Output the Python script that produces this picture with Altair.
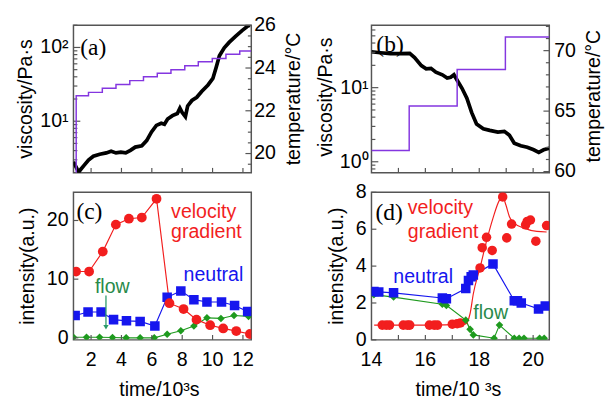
import altair as alt
import pandas as pd

FONT = "Liberation Sans"
SERIF = "Liberation Serif"
W, H = 182, 151
RED = "#f21e1e"
BLUE = "#1616ee"
GREEN = "#1e9a1e"
PURPLE = "#8436e0"
FRAME = "#555555"
FLOWC = "#2a8a4a"

# ---------------- panel (a) ----------------
a_visc_t = [0.84, 1.08, 1.20, 1.30, 1.51, 1.83, 2.15, 2.57, 3.00, 3.32, 3.64, 3.96, 4.28, 4.59,
            4.91, 5.34, 5.66, 5.98, 6.30, 6.62, 6.83, 7.04, 7.36, 7.68, 7.85, 8.00, 8.21, 8.36,
            8.64, 8.96, 9.28, 9.70, 10.02, 10.24, 10.45, 10.77, 11.09, 11.51, 11.94, 12.32, 12.45]
a_visc_v = [2.82, 2.24, 2.05, 2.2, 2.48, 2.98, 3.36, 3.57, 3.72, 3.91, 3.72, 3.8, 3.72, 4.03,
            4.46, 4.65, 5.46, 7.16, 8.77, 9.4, 9.1, 10.7, 11.9, 12.7, 15.0, 13.1, 11.5, 16.1,
            19.1, 21.1, 25.3, 31.0, 38.0, 54.0, 77.0, 99.0, 117.0, 141.0, 169.0, 195.0, 200.0]
a_temp_t = [1.02, 1.02, 1.83, 2.74, 3.64, 4.55, 5.45, 6.36, 7.26, 8.17, 9.06, 9.98, 10.88, 11.79, 12.55]
a_temp_v = [19.1, 22.70, 22.86, 23.05, 23.23, 23.41, 23.59, 23.76, 23.92, 24.11, 24.29, 24.45, 24.64, 24.80, 24.80]

# ---------------- panel (b) ----------------
b_visc_t = [14.0, 14.33, 14.70, 15.06, 15.42, 15.60, 15.85, 16.03, 16.21, 16.39, 16.63, 16.81, 16.94,
            17.06, 17.18, 17.36, 17.54, 17.72, 17.90, 18.15, 18.39, 18.69, 18.93, 19.12, 19.30,
            19.54, 19.78, 20.02, 20.21, 20.39, 20.6]
b_visc_v = [30.5, 29.6, 28.7, 28.7, 29.0, 25.5, 19.8, 17.9, 18.2, 16.2, 14.9, 13.5, 13.8,
            14.9, 12.6, 9.8, 7.2, 4.6, 3.24, 2.79, 2.65, 2.52, 2.57, 2.28, 1.78,
            1.64, 1.57, 1.45, 1.34, 1.45, 1.52]
b_temp_t = [14.0, 15.40, 17.18, 18.97, 20.6]
b_temp_v = [61.75, 65.43, 68.44, 71.13, 71.13]

# ---------------- panel (c) ----------------
c_red_t = [1.01, 1.87, 2.77, 3.63, 4.49, 5.34, 6.31, 7.16, 8.09, 8.94, 9.84, 10.70, 11.56, 12.46]
c_red_v = [11.3, 11.3, 14.7, 19.3, 20.3, 20.5, 23.7, 5.9, 4.9, 3.1, 2.15, 1.6, 1.15, 0.65]
c_blue_t = [0.95, 1.80, 2.66, 3.48, 4.33, 5.23, 6.20, 7.01, 7.91, 8.77, 9.63, 10.59, 11.45, 12.31]
c_blue_v = [3.8, 4.4, 4.4, 3.1, 2.9, 2.8, 2.0, 6.9, 8.0, 6.5, 6.1, 6.1, 5.5, 4.5]
c_green_t = [0.84, 1.70, 2.56, 3.41, 4.31, 5.23, 6.16, 7.01, 7.91, 8.77, 9.63, 10.55, 11.41, 12.37]
c_green_v = [0.1, 0.1, 0.1, 0.05, 0.0, 0.0, 0.0, 0.6, 1.2, 2.0, 3.4, 3.3, 3.8, 3.65]

# ---------------- panel (d) ----------------
d_red_t = [14.40, 14.55, 14.67, 15.18, 15.33, 15.42, 16.15, 16.33, 16.45, 17.0, 17.18, 17.3,
           18.03, 18.11, 18.27, 18.48, 18.87, 19.02, 19.2, 19.72, 19.78, 19.9, 20.1, 20.5]
d_red_v = [0.8, 0.8, 0.8, 0.8, 0.8, 0.8, 0.8, 0.8, 0.8, 0.85, 0.88, 0.92,
           3.9, 5.0, 5.56, 4.85, 7.75, 5.53, 6.28, 6.24, 6.42, 6.5, 5.35, 6.2]
d_fit_t = [14.1, 16.0, 17.48, 17.66, 17.78, 18.03, 18.27, 18.51, 18.75, 18.87, 18.99, 19.12, 19.3, 19.66, 20.14, 20.5]
d_fit_v = [0.8, 0.8, 0.85, 1.43, 2.5, 3.92, 5.35, 6.6, 7.58, 7.75, 7.31, 6.68, 6.33, 6.06, 5.88, 5.85]
d_blue_t = [14.09, 14.27, 14.82, 16.63, 16.78, 17.5, 17.6, 17.7, 17.78, 18.51, 19.3, 19.42, 19.56, 20.2, 20.45]
d_blue_v = [2.62, 2.6, 2.55, 2.27, 2.23, 2.78, 3.22, 3.42, 3.52, 4.12, 2.12, 2.12, 2.0, 1.68, 1.84]
d_green_t = [14.09, 14.82, 16.63, 16.78, 17.5, 17.66, 17.78, 18.55, 18.75, 19.3, 19.48, 19.66, 20.24, 20.41]
d_green_v = [2.45, 2.32, 1.93, 1.87, 1.07, 0.57, 0.27, 0.09, 0.8, 0.09, 0.09, 0.09, 0.09, 0.09]

# ---------------- scales, ticks and tick labels ----------------
x_left_dom = [0.84, 12.55]
x_right_dom = [14.0, 20.6]
a_visc_dom = [2.0, 200.0]
a_temp_dom = [19.1, 26.0]
b_visc_dom = [0.71, 69.5]
b_temp_dom = [59.9, 72.1]
c_y_dom = [-0.35, 24.8]
d_y_dom = [0.0, 8.0]

x_left_ticks = [2, 4, 6, 8, 10, 12]
x_left_labels = ["2", "4", "6", "8", "10", "12"]
x_right_ticks = [15, 16, 17, 18, 19, 20]
x_right_label_vals = [14, 16, 18, 20]
x_right_labels = ["14", "16", "18", "20"]
a_log_major = [10, 100]
a_log_labels = ["10¹", "10²"]
a_log_minor = [3, 4, 5, 6, 7, 8, 9, 20, 30, 40, 50, 60, 70, 80, 90, 200]
a_temp_major = [20, 22, 24, 26]
a_temp_labels = ["20", "22", "24", "26"]
a_temp_minor = [19.5, 20.5, 21, 21.5, 22.5, 23, 23.5, 24.5, 25, 25.5]
b_log_major = [1, 10]
b_log_labels = ["10⁰", "10¹"]
b_log_minor = [0.8, 0.9, 2, 3, 4, 5, 6, 7, 8, 9, 20, 30, 40, 50, 60]
b_temp_major = [60, 65, 70]
b_temp_labels = ["60", "65", "70"]
b_temp_minor = [61, 62, 63, 64, 66, 67, 68, 69, 71, 72]
c_y_ticks = [0, 10, 20]
c_y_labels = ["0", "10", "20"]
d_y_ticks = [0, 2, 4, 6, 8]
d_y_labels = ["0", "2", "4", "6", "8"]


def sc(dom, typ="linear"):
    return alt.Scale(domain=dom, type=typ, nice=False, zero=False)


def xticks(vals, dom, length=5):
    return alt.Chart(pd.DataFrame({"v": vals})).mark_rule(color=FRAME, strokeWidth=1.2).encode(
        x=alt.X("v:Q", scale=sc(dom), axis=None),
        y=alt.value(H), y2=alt.value(H - length))


def yticks(vals, scale, side, length):
    if side == "left":
        xx, xx2 = alt.value(0), alt.value(length)
    else:
        xx, xx2 = alt.value(W - length), alt.value(W)
    return alt.Chart(pd.DataFrame({"v": vals})).mark_rule(color=FRAME, strokeWidth=1.2).encode(
        y=alt.Y("v:Q", scale=scale, axis=None), x=xx, x2=xx2)


def ylabels(vals, texts, scale, side, gap):
    d = pd.DataFrame({"v": vals, "s": texts})
    if side == "left":
        mk = alt.Chart(d).mark_text(font=FONT, fontSize=20, align="right", baseline="middle", color="black")
        xx = alt.value(-gap)
    else:
        mk = alt.Chart(d).mark_text(font=FONT, fontSize=20, align="left", baseline="middle", color="black")
        xx = alt.value(W + gap)
    return mk.encode(y=alt.Y("v:Q", scale=scale, axis=None), x=xx, text="s:N")


def xlabels(vals, texts, dom):
    d = pd.DataFrame({"v": vals, "s": texts})
    return alt.Chart(d).mark_text(font=FONT, fontSize=20, align="center", baseline="middle", color="black").encode(
        x=alt.X("v:Q", scale=sc(dom), axis=None), y=alt.value(H + 21), text="s:N")


def title_text(s, px, py, angle=0):
    return alt.Chart(pd.DataFrame({"s": [s]})).mark_text(
        font=FONT, fontSize=20, align="center", baseline="middle", color="black", angle=angle).encode(
        text="s:N", x=alt.value(px), y=alt.value(py))


def panel_label(s, px, py):
    return alt.Chart(pd.DataFrame({"s": [s]})).mark_text(
        font=SERIF, fontSize=24, align="left", baseline="middle", color="black").encode(
        text="s:N", x=alt.value(px), y=alt.value(py))


def note(s, tx, ty, color, xdom, ydom):
    return alt.Chart(pd.DataFrame({"s": [s]})).mark_text(
        font=FONT, fontSize=20, align="left", baseline="middle", color=color).encode(
        text="s:N",
        x=alt.X(datum=tx, type="quantitative", scale=sc(xdom), axis=None),
        y=alt.Y(datum=ty, type="quantitative", scale=sc(ydom), axis=None))


# ---------------- panel (a) chart ----------------
a_line = alt.Chart(pd.DataFrame({"t": a_visc_t, "v": a_visc_v})).mark_line(
    color="black", strokeWidth=3.8, clip=True).encode(
    x=alt.X("t:Q", scale=sc(x_left_dom), axis=None),
    y=alt.Y("v:Q", scale=sc(a_visc_dom, "log"), axis=None))
a_visc = alt.layer(
    a_line,
    xticks(x_left_ticks, x_left_dom),
    yticks(a_log_major, sc(a_visc_dom, "log"), "left", 7),
    yticks(a_log_minor, sc(a_visc_dom, "log"), "left", 4),
    ylabels(a_log_major, a_log_labels, sc(a_visc_dom, "log"), "left", 5),
    title_text("viscosity/Pa·s", -48, H / 2, 270),
    panel_label("(a)", 7, 23),
)
a_step = alt.Chart(pd.DataFrame({"t": a_temp_t, "v": a_temp_v, "i": list(range(len(a_temp_t)))})).mark_line(
    color=PURPLE, strokeWidth=1.5, interpolate="step-after", clip=True).encode(
    x=alt.X("t:Q", scale=sc(x_left_dom), axis=None),
    y=alt.Y("v:Q", scale=sc(a_temp_dom), axis=None),
    order="i:Q")
a_temp = alt.layer(
    a_step,
    yticks(a_temp_major, sc(a_temp_dom), "right", 6),
    yticks(a_temp_minor, sc(a_temp_dom), "right", 3.5),
    ylabels(a_temp_major, a_temp_labels, sc(a_temp_dom), "right", 3),
    title_text("temperature/°C", W + 44, H / 2, 270),
)
pa = alt.layer(a_visc, a_temp).resolve_scale(y="independent").properties(width=W, height=H)

# ---------------- panel (b) chart ----------------
b_line = alt.Chart(pd.DataFrame({"t": b_visc_t, "v": b_visc_v})).mark_line(
    color="black", strokeWidth=3.8, clip=True).encode(
    x=alt.X("t:Q", scale=sc(x_right_dom), axis=None),
    y=alt.Y("v:Q", scale=sc(b_visc_dom, "log"), axis=None))
b_visc = alt.layer(
    b_line,
    xticks(x_right_ticks, x_right_dom),
    yticks(b_log_major, sc(b_visc_dom, "log"), "left", 7),
    yticks(b_log_minor, sc(b_visc_dom, "log"), "left", 4),
    ylabels(b_log_major, b_log_labels, sc(b_visc_dom, "log"), "left", 3),
    title_text("viscosity/Pa·s", -46, H / 2 - 2, 270),
    panel_label("(b)", 5, 20),
)
b_step = alt.Chart(pd.DataFrame({"t": b_temp_t, "v": b_temp_v})).mark_line(
    color=PURPLE, strokeWidth=1.5, interpolate="step-after", clip=True).encode(
    x=alt.X("t:Q", scale=sc(x_right_dom), axis=None),
    y=alt.Y("v:Q", scale=sc(b_temp_dom), axis=None))
b_temp = alt.layer(
    b_step,
    yticks(b_temp_major, sc(b_temp_dom), "right", 6),
    yticks(b_temp_minor, sc(b_temp_dom), "right", 3.5),
    ylabels(b_temp_major, b_temp_labels, sc(b_temp_dom), "right", 5),
    title_text("temperature/°C", W + 46, H / 2 - 3, 270),
)
pb = alt.layer(b_visc, b_temp).resolve_scale(y="independent").properties(width=W, height=H)


# ---------------- panel (c) chart ----------------
def series(ts, vs, color, shape, size, xdom, ydom):
    d = pd.DataFrame({"t": ts, "v": vs})
    base = alt.Chart(d).encode(
        x=alt.X("t:Q", scale=sc(xdom), axis=None),
        y=alt.Y("v:Q", scale=sc(ydom), axis=None))
    line = base.mark_line(color=color, strokeWidth=1.2, clip=True)
    pts = base.mark_point(shape=shape, size=size, filled=True, opacity=1, color=color, clip=True)
    return line, pts


cg_l, cg_p = series(c_green_t, c_green_v, GREEN, "diamond", 60, x_left_dom, c_y_dom)
cb_l, cb_p = series(c_blue_t, c_blue_v, BLUE, "square", 95, x_left_dom, c_y_dom)
cr_l, cr_p = series(c_red_t, c_red_v, RED, "circle", 100, x_left_dom, c_y_dom)

c_arrow = alt.Chart(pd.DataFrame({"s": ["flow"]})).mark_rule(color="#2a9a6a", strokeWidth=1.3).encode(
    x=alt.X(datum=2.98, type="quantitative", scale=sc(x_left_dom), axis=None),
    y=alt.Y(datum=7.2, type="quantitative", scale=sc(c_y_dom), axis=None),
    y2=alt.Y2(datum=2.0))
c_head = alt.Chart(pd.DataFrame({"s": ["flow"]})).mark_point(
    shape="triangle-down", filled=True, opacity=1, size=30, color="#2a9a6a").encode(
    x=alt.X(datum=2.98, type="quantitative", scale=sc(x_left_dom), axis=None),
    y=alt.Y(datum=1.8, type="quantitative", scale=sc(c_y_dom), axis=None))

pc = alt.layer(
    cg_l, cb_l, cr_l, cg_p, cb_p, cr_p,
    c_arrow, c_head,
    xticks(x_left_ticks, x_left_dom),
    yticks(c_y_ticks, sc(c_y_dom), "left", 5),
    ylabels(c_y_ticks, c_y_labels, sc(c_y_dom), "left", 5),
    xlabels(x_left_ticks, x_left_labels, x_left_dom),
    title_text("intensity(a.u.)", -46, H / 2, 270),
    title_text("time/10³s", W / 2 - 3, H + 51),
    note("velocity", 7.27, 21.5, RED, x_left_dom, c_y_dom),
    note("gradient", 7.27, 18.0, RED, x_left_dom, c_y_dom),
    note("neutral", 8.09, 10.65, BLUE, x_left_dom, c_y_dom),
    note("flow", 2.25, 8.65, FLOWC, x_left_dom, c_y_dom),
    panel_label("(c)", 3, 20),
).properties(width=W, height=H)

# ---------------- panel (d) chart ----------------
dg_l, dg_p = series(d_green_t, d_green_v, GREEN, "diamond", 60, x_right_dom, d_y_dom)
db_l, db_p = series(d_blue_t, d_blue_v, BLUE, "square", 95, x_right_dom, d_y_dom)
d_red_pts = alt.Chart(pd.DataFrame({"t": d_red_t, "v": d_red_v})).mark_point(
    shape="circle", size=95, filled=True, opacity=1, color=RED, clip=True).encode(
    x=alt.X("t:Q", scale=sc(x_right_dom), axis=None),
    y=alt.Y("v:Q", scale=sc(d_y_dom), axis=None))
d_fit = alt.Chart(pd.DataFrame({"t": d_fit_t, "v": d_fit_v})).mark_line(
    color=RED, strokeWidth=1.2, interpolate="monotone", clip=True).encode(
    x=alt.X("t:Q", scale=sc(x_right_dom), axis=None),
    y=alt.Y("v:Q", scale=sc(d_y_dom), axis=None))

pd_ = alt.layer(
    dg_l, db_l, d_fit, d_red_pts, dg_p, db_p,
    xticks(x_right_ticks, x_right_dom),
    yticks(d_y_ticks, sc(d_y_dom), "left", 5),
    ylabels(d_y_ticks, d_y_labels, sc(d_y_dom), "left", 5),
    xlabels(x_right_label_vals, x_right_labels, x_right_dom),
    title_text("intensity(a.u.)", -35, H / 2, 270),
    title_text("time/10 ³s", W / 2 - 2, H + 51),
    note("velocity", 15.35, 7.13, RED, x_right_dom, d_y_dom),
    note("gradient", 15.35, 5.84, RED, x_right_dom, d_y_dom),
    note("neutral", 14.81, 3.42, BLUE, x_right_dom, d_y_dom),
    note("flow", 17.78, 1.43, FLOWC, x_right_dom, d_y_dom),
    panel_label("(d)", 4, 21),
).properties(width=W, height=H)

chart = alt.concat(
    pa, pb, pc, pd_, columns=2, spacing={"row": 20, "column": 123}, bounds="flush",
    padding={"left": 8, "top": 2, "right": 0, "bottom": 0},
).configure_view(stroke=FRAME, strokeWidth=1.5)

chart.save("out.html", embed_options={"renderer": "svg", "actions": False})
